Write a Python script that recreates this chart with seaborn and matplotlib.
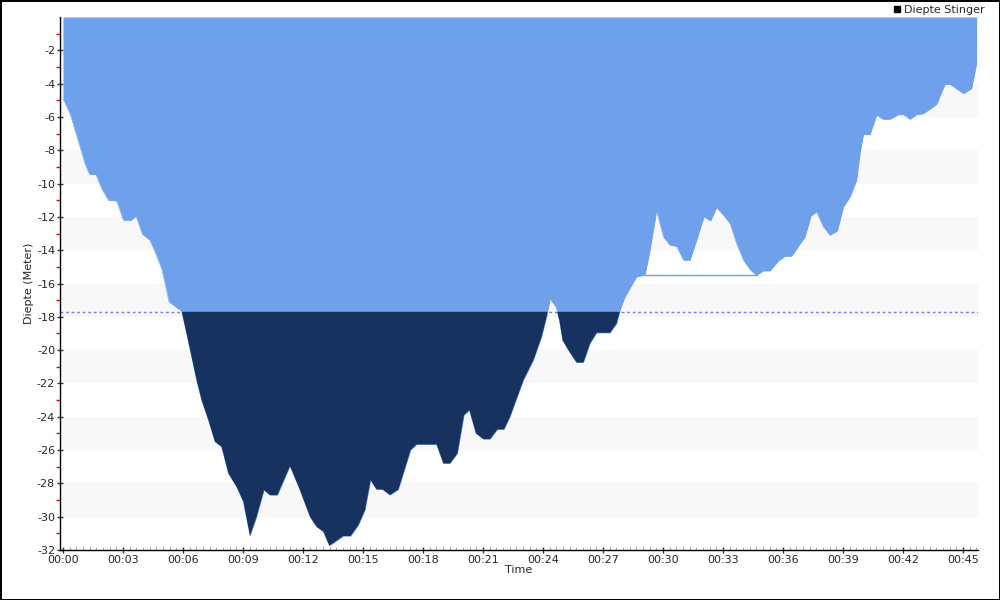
import numpy as np
import pandas as pd
import seaborn as sns
import matplotlib.pyplot as plt
from matplotlib.lines import Line2D
from matplotlib.ticker import MultipleLocator, FuncFormatter

# duiktijd in minuten en diepte in meter
minutes = [0, 0.35, 0.6, 0.85, 1.1, 1.32, 1.65, 1.93, 2.27, 2.68, 3.02, 3.4, 3.65, 3.97,
           4.35, 4.6, 4.93, 5.1, 5.3, 5.93, 6.18, 6.43, 6.68, 6.93, 7.27, 7.6, 7.93, 8.27,
           8.68, 9.02, 9.35, 9.68, 10.05, 10.35, 10.72, 11.35, 11.85, 12.35, 12.68, 13.02,
           13.32, 14.02, 14.38, 14.77, 15.1, 15.38, 15.68, 15.98, 16.35, 16.77, 17.38, 17.68,
           18.68, 19.02, 19.35, 19.72, 20.05, 20.32, 20.65, 21.02, 21.35, 21.72, 22.05, 22.35,
           23.02, 23.52, 23.93, 24.18, 24.35, 24.65, 24.82, 24.98, 25.27, 25.68, 26.02, 26.35,
           26.68, 27.35, 27.68, 27.88, 28.1, 28.68, 29.1, 29.35, 29.68, 30.02, 30.35, 30.68,
           31.02, 31.35, 31.68, 32.05, 32.38, 32.68, 33.02, 33.35, 33.68, 34.02, 34.35, 34.68,
           35.02, 35.35, 35.77, 36.1, 36.43, 36.77, 37.1, 37.4, 37.68, 38.02, 38.35, 38.72,
           39.02, 39.35, 39.68, 39.85, 40.02, 40.35, 40.68, 41.02, 41.35, 41.77, 42.02, 42.35,
           42.68, 43.02, 43.68, 44.1, 44.35, 45.02, 45.43, 45.68]
depth = [-4.9, -5.8, -6.8, -7.8, -8.8, -9.44, -9.46, -10.3, -11.0, -11.04, -12.2, -12.2, -11.96,
         -13.04, -13.4, -14.1, -15.1, -16.0, -17.1, -17.66, -19.0, -20.4, -21.8, -23.0, -24.2,
         -25.5, -25.8, -27.4, -28.2, -29.1, -31.15, -30.0, -28.4, -28.7, -28.7, -26.96, -28.4,
         -30.0, -30.6, -30.9, -31.74, -31.16, -31.16, -30.5, -29.6, -27.8, -28.36, -28.36,
         -28.7, -28.36, -26.0, -25.66, -25.66, -26.8, -26.8, -26.2, -23.9, -23.6, -25.0,
         -25.34, -25.34, -24.76, -24.76, -24.0, -21.8, -20.6, -19.2, -18.0, -16.94, -17.4,
         -18.2, -19.4, -20.0, -20.74, -20.74, -19.6, -18.96, -18.96, -18.4, -17.5, -16.8,
         -15.6, -15.5, -14.0, -11.64, -13.2, -13.7, -13.76, -14.6, -14.6, -13.4, -12.0,
         -12.24, -11.44, -11.9, -12.4, -13.6, -14.6, -15.16, -15.5, -15.24, -15.24, -14.64,
         -14.36, -14.36, -13.76, -13.2, -11.94, -11.7, -12.6, -13.1, -12.84, -11.4, -10.8,
         -9.8, -8.2, -7.06, -7.06, -5.9, -6.14, -6.14, -5.86, -5.86, -6.14, -5.86, -5.8,
         -5.24, -4.04, -4.04, -4.6, -4.3, -2.8]
threshold = -17.7
y_ticks = list(range(-32, 0, 2))

df = pd.DataFrame({'Time': minutes, 'Diepte': depth})

sns.set_style('white')
plt.rcParams['font.family'] = ['DejaVu Sans']
plt.rcParams['axes.unicode_minus'] = False

light = '#6fa0ec'
dark = '#17325f'

fig = plt.figure(figsize=(10, 6), dpi=100, edgecolor='black', linewidth=1)
ax = fig.add_axes([0.06, 0.0833, 0.918, 0.8884])

# gestreepte achtergrond
for lo in range(-30, 0, 4):
    ax.axhspan(lo, lo + 2, color='#f8f8f8', lw=0, zorder=0)

ax.axhline(threshold, color='#7b7bf5', lw=1, ls=(0, (2, 2)), zorder=1)

t = df['Time'].to_numpy()
d = df['Diepte'].to_numpy()
ax.fill_between(t, 0, d, color=light, lw=0, zorder=2)
ax.fill_between(t, threshold, d, where=d < threshold, interpolate=True, color=dark, lw=0, zorder=3)
sns.lineplot(data=df, x='Time', y='Diepte', color=light, lw=0.4, ax=ax, zorder=2)

# dunne verbindingslijn tussen de twee punten op -15.5 m
flat = df[df['Diepte'] == -15.5]
ax.plot(flat['Time'], flat['Diepte'], color=light, lw=1, zorder=2)

ax.set_xlim(-0.15, 45.75)
ax.set_ylim(-32, 0)
ax.set_yticks(y_ticks)
ax.set_yticks([v + 1 for v in y_ticks], minor=True)
ax.xaxis.set_major_locator(MultipleLocator(3))
ax.xaxis.set_minor_locator(MultipleLocator(1 / 3))
ax.xaxis.set_major_formatter(FuncFormatter(lambda v, p: f'{int(v // 60):02d}:{int(round(v)) % 60:02d}'))

for s in ['top', 'right']:
    ax.spines[s].set_visible(False)
for s in ['left', 'bottom']:
    ax.spines[s].set_color('black')
    ax.spines[s].set_linewidth(1)

ax.tick_params(left=True, bottom=True, which='both')
ax.tick_params(axis='both', which='major', labelsize=8, length=5, width=1,
               color='#333333', direction='inout', pad=1)
ax.tick_params(axis='y', which='minor', length=3, width=1, color='#ff0000', direction='out')
ax.tick_params(axis='x', which='minor', length=2, width=0.6, color='#999999', direction='in')

ax.set_xlabel('Time', fontsize=8, labelpad=0)
ax.set_ylabel('Diepte (Meter)', fontsize=8, labelpad=2)

handle = Line2D([], [], marker='s', color='black', ls='', markersize=5)
fig.legend([handle], ['Diepte Stinger'], loc='upper right', bbox_to_anchor=(0.995, 1.008),
           frameon=False, fontsize=8, handlelength=0.8, handletextpad=0.3)

fig.savefig('out.png', dpi=100, edgecolor=fig.get_edgecolor())
